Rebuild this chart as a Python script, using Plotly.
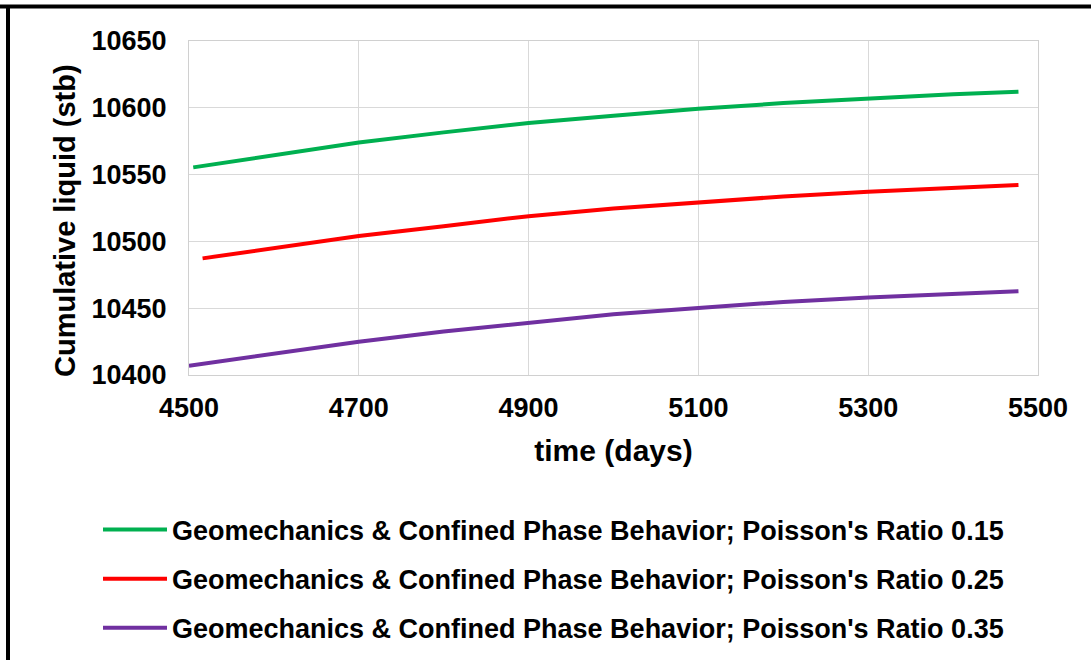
import plotly.graph_objects as go

# Cumulative liquid production vs time for three Poisson's ratios
time_g = [4505, 4600, 4700, 4800, 4900, 5000, 5100, 5200, 5300, 5400, 5477]
liq_015 = [10555.4, 10564.7, 10574.1, 10581.6, 10588.6, 10594.0, 10599.3, 10603.5, 10607.2, 10610.2, 10612.0]

time_r = [4516, 4600, 4700, 4800, 4900, 5000, 5100, 5200, 5300, 5400, 5477]
liq_025 = [10487.3, 10495.0, 10504.0, 10511.4, 10518.9, 10524.6, 10529.4, 10533.6, 10537.2, 10540.2, 10542.3]

time_p = [4500, 4600, 4700, 4800, 4900, 5000, 5100, 5200, 5300, 5400, 5477]
liq_035 = [10406.9, 10416.0, 10424.9, 10432.6, 10439.3, 10445.5, 10450.2, 10454.7, 10458.0, 10461.0, 10462.7]

names = [
    "Geomechanics & Confined Phase Behavior; Poisson's Ratio 0.15",
    "Geomechanics & Confined Phase Behavior; Poisson's Ratio 0.25",
    "Geomechanics & Confined Phase Behavior; Poisson's Ratio 0.35",
]
colors = ["#00b050", "#ff0000", "#7030a0"]
series = [(time_g, liq_015), (time_r, liq_025), (time_p, liq_035)]

FONT = "Liberation Sans, Arial, sans-serif"

fig = go.Figure()
for (t, q), name, c in zip(series, names, colors):
    fig.add_trace(go.Scatter(
        x=t, y=q, mode="lines", name=name, legendgroup=name,
        line=dict(color=c, width=4),
    ))

W, H = 1091, 660
L, R, T, B = 189, 53, 41, 285
pw, ph = W - L - R, H - T - B

def px_x(p):
    return (p - L) / pw

def px_y(p):
    return (H - B - p) / ph

axis_common = dict(
    showgrid=True, gridcolor="#d9d9d9", gridwidth=1,
    showline=True, linecolor="#d0d0d0", linewidth=1, mirror=True,
    ticks="", zeroline=False,
    tickfont=dict(family=FONT, size=27, color="#000000", weight="bold"),
)

fig.update_layout(
    width=W, height=H,
    margin=dict(l=L, r=R, t=T, b=B, autoexpand=False),
    paper_bgcolor="white", plot_bgcolor="white",
    font=dict(family=FONT, color="#000000"),
    xaxis=dict(
        range=[4500, 5500], dtick=200, tick0=4500, tickformat="d",
        title=dict(text="<b>time (days)</b>", font=dict(family=FONT, size=30), standoff=17),
        ticklabelstandoff=9,
        **axis_common,
    ),
    yaxis=dict(
        range=[10400, 10650], dtick=50, tick0=10400, tickformat="d",
        ticklabelstandoff=16,
        **axis_common,
    ),
    annotations=[
        dict(text="<b>Cumulative liquid (stb)</b>", textangle=-90,
             xref="paper", yref="paper", x=px_x(65), y=px_y(220),
             xanchor="center", yanchor="middle", showarrow=False,
             font=dict(family=FONT, size=29, color="#000000")),
    ],
    showlegend=True,
    legend=dict(
        xref="container", yref="container",
        x=98 / W, y=1 - 505.5 / H, xanchor="left", yanchor="top",
        font=dict(family=FONT, size=27, color="#000000", weight="bold"),
        bgcolor="rgba(0,0,0,0)", tracegroupgap=11, itemwidth=64,
    ),
    shapes=[
        dict(type="line", xref="paper", yref="paper",
             x0=px_x(0), x1=px_x(W), y0=px_y(6.5), y1=px_y(6.5),
             line=dict(color="#000000", width=4)),
        dict(type="line", xref="paper", yref="paper",
             x0=px_x(8), x1=px_x(8), y0=px_y(5), y1=px_y(H + 10),
             line=dict(color="#000000", width=4)),
    ],
)

fig.write_html("out.html")
